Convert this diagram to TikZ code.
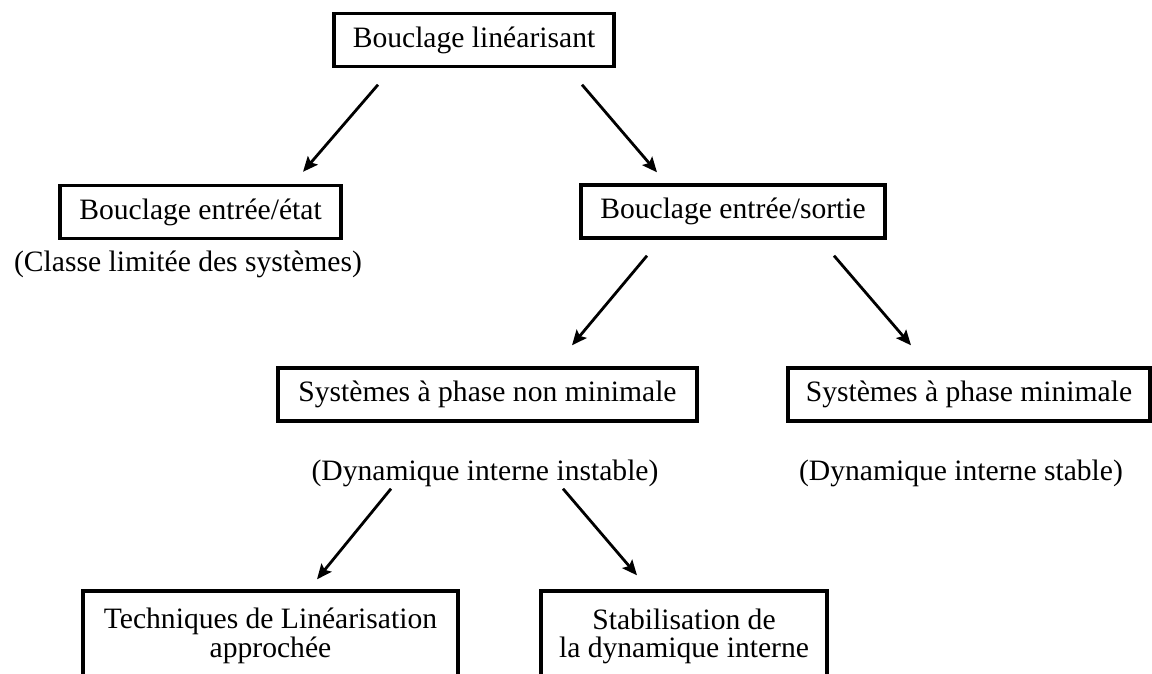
\documentclass[tikz,border=0pt]{standalone}
\usepackage{fontspec}
\setmainfont{Liberation Serif}
\usetikzlibrary{arrows.meta, calc}

\begin{document}
\begin{tikzpicture}[
		x=0.5pt, y=-0.5pt,
		box/.style={draw=black, line width=1.7pt, inner sep=0pt, minimum height=26.5pt, align=center, font=\fontsize{14.8pt}{12.5pt}\selectfont},
		note text/.style={inner sep=0pt, font=\fontsize{14.8pt}{18pt}\selectfont},
		arr/.style={line width=1.4pt, -{Stealth[length=7.5pt, width=6.5pt, inset=1.4pt]}}
		]
		
		\useasboundingbox (0,0) rectangle (1152,674);
		\clip (0,0) rectangle (1152,674);
		
		% =========================================================
		% Level 1
		% =========================================================
		\node[box, minimum width=140pt] (top) at (474,40) {Bouclage linéarisant};
		
		% =========================================================
		% Level 2
		% =========================================================
		\node[box, minimum width=140.5pt] (etat) at (200.5,212) {Bouclage entrée/état};
		\node[note text] (classe) at (188,264) {(Classe limitée des systèmes)};
		
		\node[box, minimum width=152pt] (sortie) at (733,211.5) {Bouclage entrée/sortie};
		
		% =========================================================
		% Level 3
		% =========================================================
		\node[box, minimum width=209.5pt] (nonmin) at (487.5,394.5) {Systèmes à phase non minimale};
		\node[note text] (instable) at (485,473) {(Dynamique interne instable)};
		
		\node[box, minimum width=181pt] (min) at (969,394.5) {Systèmes à phase minimale};
		\node[note text] (stable) at (961,473) {(Dynamique interne stable)};
		
		% =========================================================
		% Level 4 (boxes run past the lower edge)
		% =========================================================
		\node[box, minimum width=187.5pt, minimum height=45pt] (lin) at (270.5,636) {Techniques de Linéarisation\\approchée};
		\node[box, minimum width=143pt, minimum height=45pt, font=\fontsize{14.8pt}{14pt}\selectfont] (stab) at (684,636) {Stabilisation de\\la dynamique interne};
		
		% Arrows
		\draw[arr] ($(top.south)+(-96,16.5)$) -- ($(etat.north)+(102.5,-12)$);
		\draw[arr] ($(top.south)+(108,16.5)$) -- ($(sortie.north)+(-76,-11)$);
		\draw[arr] ($(sortie.south)+(-86,16)$) -- ($(nonmin.north)+(84.5,-21)$);
		\draw[arr] ($(sortie.south)+(101,16)$) -- ($(min.north)+(-58,-21)$);
		\draw[arr] ($(nonmin.south)+(-96.5,66)$) -- ($(lin.north)+(46.5,-10)$);
		\draw[arr] ($(nonmin.south)+(75.5,66)$) -- ($(stab.north)+(-47,-14)$);
		
	\end{tikzpicture}
\end{document}
